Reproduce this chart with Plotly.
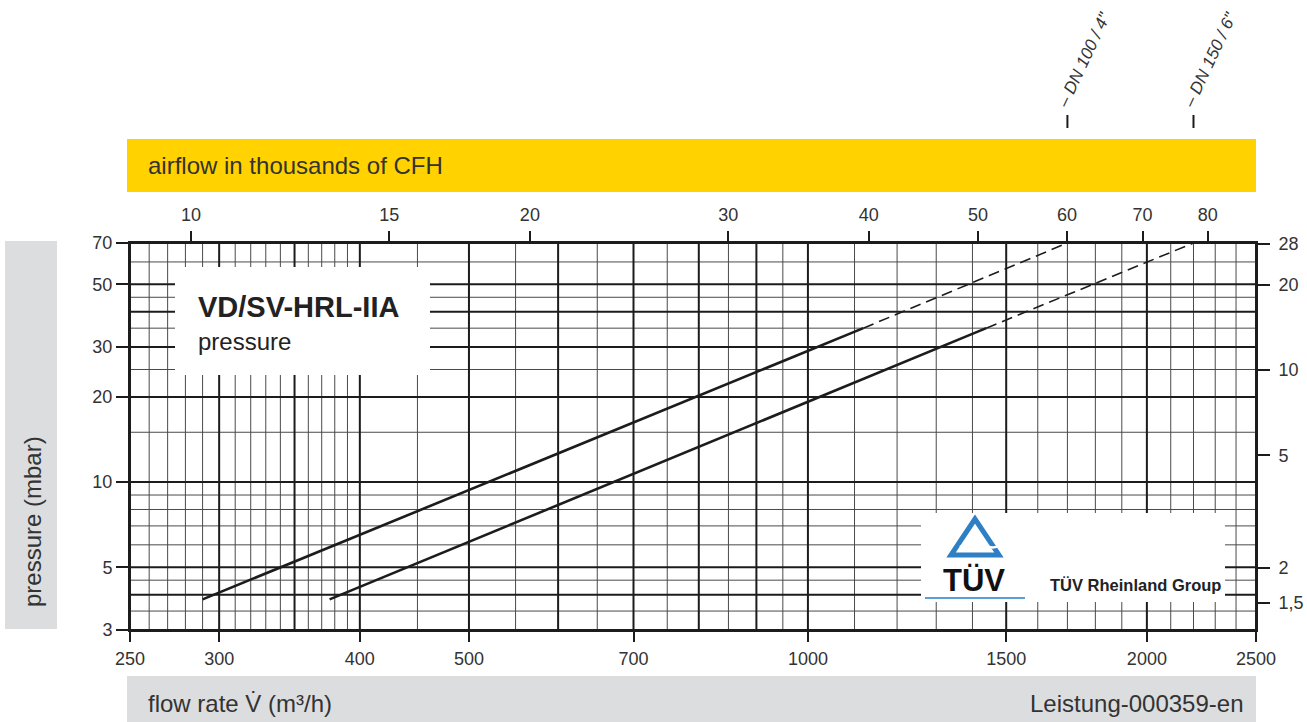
import math
import plotly.graph_objects as go

# Pressure drop characteristics: flow rate (m³/h) vs. pressure (mbar).
# Solid up to the rated point, dashed above it.
dn100_flow = [290, 1120, 1700]
dn100_pressure = [3.85, 35, 70]
dn150_flow = [376, 1440, 2200]
dn150_pressure = [3.85, 35, 70]
dn_labels = ["– DN 100 / 4\"", "– DN 150 / 6\""]

# Axis ticks
flow_ticks = [250, 300, 400, 500, 700, 1000, 1500, 2000, 2500]
pressure_ticks = [3, 5, 10, 20, 30, 50, 70]
cfh_ticks = [10, 15, 20, 30, 40, 50, 60, 70, 80]          # thousands of CFH
inwc_ticks = [1.5, 2, 5, 10, 20, 28]                       # inches water column
inwc_text = ["1,5", "2", "5", "10", "20", "28"]

# Grid lines (heavy / light)
flow_grid_major = [250, 300, 350, 400, 500, 600, 700, 800, 900, 1000, 1500, 2000, 2500]
flow_grid_minor = [260, 270, 280, 290, 310, 320, 330, 340, 360, 370, 380, 390,
                   450, 550, 650, 750, 850, 950,
                   1100, 1200, 1300, 1400, 1600, 1700, 1800, 1900, 2100, 2200, 2300, 2400]
pressure_grid_major = [3, 4, 5, 10, 20, 30, 40, 50, 70]
pressure_grid_minor = [3.5, 4.5, 6, 7, 8, 9, 15, 25, 35, 45, 60]

FLOW_RANGE = (250, 2500)
PRESSURE_RANGE = (3, 70)
M3H_TO_KCFH = 35.3147 / 1000
MBAR_PER_INWC = 2.4884

W, H = 1307, 722
ML, MR, MT, MB = 130, 51, 243, 92
PW, PH = W - ML - MR, H - MT - MB

FONT = "Liberation Sans, Arial, sans-serif"
TXT = "#333333"
INK = "#1c1c1c"


def px(x):
    return (x - ML) / PW


def py(y):
    return (H - MB - y) / PH


fig = go.Figure()

# Characteristic curves
for flow, pres in ((dn100_flow, dn100_pressure), (dn150_flow, dn150_pressure)):
    fig.add_trace(go.Scatter(x=flow[:2], y=pres[:2], mode="lines",
                             line=dict(color=INK, width=2.6), hoverinfo="skip",
                             showlegend=False))
    fig.add_trace(go.Scatter(x=flow[1:], y=pres[1:], mode="lines",
                             line=dict(color=INK, width=1.6, dash="11px,6px"),
                             hoverinfo="skip", showlegend=False))

# secondary unit scales (thousands of CFH on top, inches WC on the right)
fig.add_trace(go.Scatter(x=[], y=[], xaxis="x2", yaxis="y2", mode="lines",
                         hoverinfo="skip", showlegend=False))

shapes = []
# grid
for v in flow_grid_minor:
    shapes.append(dict(type="line", xref="x", yref="paper", x0=v, x1=v, y0=0, y1=1,
                       line=dict(color="#4a4a4a", width=1), layer="below"))
for v in pressure_grid_minor:
    shapes.append(dict(type="line", xref="paper", yref="y", x0=0, x1=1, y0=v, y1=v,
                       line=dict(color="#4a4a4a", width=1), layer="below"))
for v in flow_grid_major:
    shapes.append(dict(type="line", xref="x", yref="paper", x0=v, x1=v, y0=0, y1=1,
                       line=dict(color=INK, width=2), layer="below"))
for v in pressure_grid_major:
    shapes.append(dict(type="line", xref="paper", yref="y", x0=0, x1=1, y0=v, y1=v,
                       line=dict(color=INK, width=2), layer="below"))

# white panels over the grid
shapes.append(dict(type="rect", xref="paper", yref="paper",
                   x0=px(175), x1=px(430), y0=py(375), y1=py(267),
                   fillcolor="white", line=dict(width=0), layer="below"))
shapes.append(dict(type="rect", xref="paper", yref="paper",
                   x0=px(921), x1=px(1225), y0=py(602), y1=py(513),
                   fillcolor="white", line=dict(width=0), layer="below"))

# header / footer / side bands
shapes.append(dict(type="rect", xref="paper", yref="paper",
                   x0=px(127), x1=px(1256), y0=py(192), y1=py(139),
                   fillcolor="#FFD200", line=dict(width=0)))
shapes.append(dict(type="rect", xref="paper", yref="paper",
                   x0=px(127), x1=px(1256), y0=py(722), y1=py(676),
                   fillcolor="#DCDDDF", line=dict(width=0)))
shapes.append(dict(type="rect", xref="paper", yref="paper",
                   x0=px(5), x1=px(57), y0=py(629), y1=py(241),
                   fillcolor="#DCDDDF", line=dict(width=0)))

# nominal size markers above the chart, at the flow where each curve reaches the top
for flow in (dn100_flow, dn150_flow):
    shapes.append(dict(type="line", xref="x", yref="paper", x0=flow[-1], x1=flow[-1],
                       y0=py(128), y1=py(115), line=dict(color=INK, width=2)))

# TÜV emblem
BLUE = "#2f7fc4"
tri = "M {} {} L {} {} L {} {} Z".format(px(975), py(519), px(951), py(555), px(999), py(555))
shapes.append(dict(type="path", xref="paper", yref="paper", path=tri,
                   line=dict(color=BLUE, width=5), fillcolor="rgba(0,0,0,0)"))
wave = "M {} {} Q {} {} {} {} Q {} {} {} {}".format(
    px(960), py(547), px(975), py(537), px(985), py(545),
    px(992), py(550), px(1001), py(545))
shapes.append(dict(type="path", xref="paper", yref="paper", path=wave,
                   line=dict(color="white", width=2.5)))
shapes.append(dict(type="line", xref="paper", yref="paper",
                   x0=px(925), x1=px(1025), y0=py(598), y1=py(598),
                   line=dict(color="#5aa0d8", width=2)))

annotations = [
    dict(text="airflow in thousands of CFH", xref="paper", yref="paper",
         x=px(146), y=py(166), xanchor="left", yanchor="middle", showarrow=False,
         font=dict(size=24, color=TXT, family=FONT)),
    dict(text="flow rate V\u0307 (m³/h)", xref="paper", yref="paper",
         x=px(146), y=py(703), xanchor="left", yanchor="middle", showarrow=False,
         font=dict(size=24, color=TXT, family=FONT)),
    dict(text="Leistung-000359-en", xref="paper", yref="paper",
         x=px(1246), y=py(703), xanchor="right", yanchor="middle", showarrow=False,
         font=dict(size=24, color=TXT, family=FONT)),
    dict(text="pressure (mbar)", xref="paper", yref="paper", textangle=-90,
         x=px(32), y=py(522), xanchor="center", yanchor="middle", showarrow=False,
         font=dict(size=24, color=TXT, family=FONT)),
    dict(text="<b>VD/SV-HRL-IIA</b>", xref="paper", yref="paper",
         x=px(196), y=py(307), xanchor="left", yanchor="middle", showarrow=False,
         font=dict(size=29, color="#222222", family=FONT)),
    dict(text="pressure", xref="paper", yref="paper",
         x=px(196), y=py(341), xanchor="left", yanchor="middle", showarrow=False,
         font=dict(size=24, color="#222222", family=FONT)),
    dict(text="<b>TÜV</b>", xref="paper", yref="paper",
         x=px(974), y=py(580), xanchor="center", yanchor="middle", showarrow=False,
         font=dict(size=31, color="#111111", family=FONT)),
    dict(text="<b>TÜV Rheinland Group</b>", xref="paper", yref="paper",
         x=px(1223), y=py(585), xanchor="right", yanchor="middle", showarrow=False,
         font=dict(size=16.5, color="#222222", family=FONT)),
]
for flow, label in zip((dn100_flow, dn150_flow), dn_labels):
    annotations.append(dict(text="<i>" + label + "</i>", xref="x", yref="paper",
                            x=math.log10(flow[-1]), y=py(60), xshift=16,
                            xanchor="center", yanchor="middle",
                            textangle=-65, showarrow=False,
                            font=dict(size=17, color=TXT, family=FONT)))

tickfont = dict(size=18, color=TXT, family=FONT)
log_rng = lambda a, b: [math.log10(a), math.log10(b)]
common = dict(type="log", showgrid=False, zeroline=False, showline=True, linecolor=INK,
              linewidth=2, ticks="outside", tickwidth=1.5, tickcolor=INK,
              tickfont=tickfont, automargin=False)

fig.update_layout(
    width=W, height=H,
    margin=dict(l=ML, r=MR, t=MT, b=MB, pad=0, autoexpand=False),
    paper_bgcolor="white", plot_bgcolor="white",
    showlegend=False,
    shapes=shapes, annotations=annotations,
    xaxis=dict(common, range=log_rng(*FLOW_RANGE), tickvals=flow_ticks,
               ticktext=[str(v) for v in flow_ticks], ticklen=10, ticklabelstandoff=1),
    xaxis2=dict(common, overlaying="x", side="top", anchor="y",
                range=log_rng(FLOW_RANGE[0] * M3H_TO_KCFH, FLOW_RANGE[1] * M3H_TO_KCFH),
                tickvals=cfh_ticks, ticktext=[str(v) for v in cfh_ticks],
                ticklen=10, ticklabelstandoff=3),
    yaxis=dict(common, range=log_rng(*PRESSURE_RANGE), tickvals=pressure_ticks,
               ticktext=[str(v) for v in pressure_ticks], ticklen=12,
               ticklabelstandoff=0),
    yaxis2=dict(common, overlaying="y", side="right", anchor="x",
                range=log_rng(PRESSURE_RANGE[0] / MBAR_PER_INWC,
                              PRESSURE_RANGE[1] / MBAR_PER_INWC),
                tickvals=inwc_ticks, ticktext=inwc_text, ticklen=12,
                ticklabelstandoff=5),
)

fig.write_html("out.html")
